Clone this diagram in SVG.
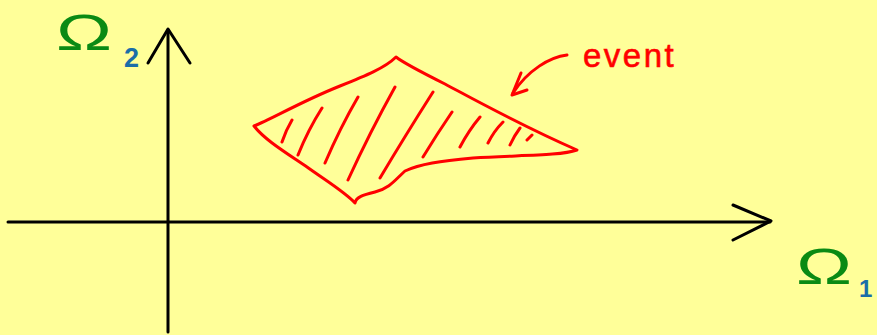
<svg xmlns="http://www.w3.org/2000/svg" width="877" height="335" viewBox="0 0 877 335">
<style>
.ax{fill:none;stroke:#000;stroke-width:3;stroke-linecap:round;stroke-linejoin:round}
.red{fill:none;stroke:#ff0000;stroke-width:3;stroke-linecap:round;stroke-linejoin:round}
.om{font-family:"Liberation Sans",sans-serif;fill:#0a8a14}
.sub{font-family:"Liberation Sans",sans-serif;font-weight:bold;fill:#1a6ea8}
.lbl{font-family:"Liberation Sans",sans-serif;fill:#ff0000;stroke:#ff0000;stroke-width:0.6}
</style>
<rect width="877" height="335" fill="#ffff99"/>
<g id="axes">
<path class="ax" d="M168,332 L168,30"/>
<path class="ax" d="M148,63 L168,29 L190,63"/>
<path class="ax" d="M8,222 L770,222"/>
<path class="ax" d="M733,205 L771,221 L733,240"/>
</g>
<g id="event-region">
<path class="red" d="M254,126 C270,120 300,102 340,86 C365,76 385,68 396,57 C405,64 425,74 445,84 C475,100 520,125 577,150 C560,156 520,155 473,158 C440,161 420,164 405,171 C395,180 390,188 375,192 C363,195 356,197 355,203 C345,192 325,180 307,167 C285,152 265,140 254,126 Z"/>
<path class="red" d="M292,120 Q286,130 282,142 M322,108 Q308,130 298,155 M358,97 Q340,128 325,163 M395,87 Q370,132 348,180 M433,92 Q405,136 380,178 M452,112 Q437,134 423,157 M480,117 Q469,130 460,147 M503,122 Q494,131 488,143 M520,128 Q514,136 510,145 M532,135 L527,140"/>
</g>
<g id="label-event">
<path class="red" d="M567,55 C550,57 528,70 513,93"/>
<path class="red" d="M521,73 L512,95 L527,90"/>
<text class="lbl" x="583" y="67" font-size="33" letter-spacing="2.5">event</text>
</g>
<g id="label-omega2">
<text class="om" x="56" y="50" font-size="50" textLength="56" lengthAdjust="spacingAndGlyphs">Ω</text>
<text class="sub" x="124" y="67" font-size="27">2</text>
</g>
<g id="label-omega1">
<text class="om" x="796" y="284" font-size="50" textLength="56" lengthAdjust="spacingAndGlyphs">Ω</text>
<text class="sub" x="859" y="297" font-size="24">1</text>
</g>
</svg>
